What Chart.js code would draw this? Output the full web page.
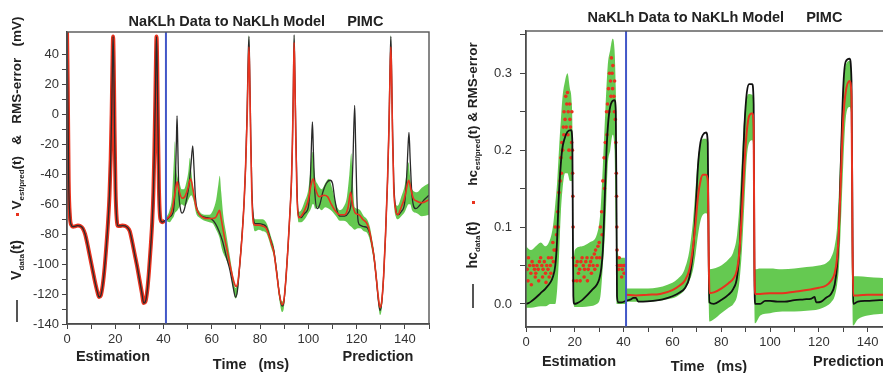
<!DOCTYPE html>
<html>
<head>
<meta charset="utf-8">
<script src="https://cdn.jsdelivr.net/npm/chart.js@4.4.1/dist/chart.umd.min.js"></script>
<style>
    body { margin: 0; width: 883px; height: 373px; overflow: hidden; position: relative; background: #fff;
           font-family: "Liberation Sans", Arial, sans-serif; color: #222; }
    canvas { position: absolute; top: 0; }
    #cV { left: 0; }
    #cH { left: 440px; }
    .lbl { position: absolute; font-weight: bold; font-size: 14.5px; white-space: nowrap; transform: translate(-50%, -50%); }
    .rot { transform: translate(-50%, -50%) rotate(-90deg); font-size: 14px; }
    .rot sub { font-size: 8px; vertical-align: -3px; }
    .dot { position: absolute; width: 3px; height: 3px; background: #e8321e; }
    .bar { position: absolute; width: 1.5px; background: #555; }
</style>
</head>
<body>
<canvas id="cV" width="440" height="373"></canvas>
<canvas id="cH" width="460" height="373"></canvas>

<div class="lbl" style="left:256px;top:21px">NaKLh Data to NaKLh Model<span style="margin-left:22px">PIMC</span></div>
<div class="lbl" style="left:715px;top:17px">NaKLh Data to NaKLh Model<span style="margin-left:22px">PIMC</span></div>

<div class="lbl" style="left:113px;top:356px">Estimation</div>
<div class="lbl" style="left:251px;top:364px">Time&nbsp;&nbsp; (ms)</div>
<div class="lbl" style="left:378px;top:356px">Prediction</div>
<div class="lbl" style="left:579px;top:361px">Estimation</div>
<div class="lbl" style="left:709px;top:366px">Time&nbsp;&nbsp; (ms)</div>
<div class="lbl" style="left:813px;top:361px;transform:translate(0,-50%)">Prediction</div>

<div class="lbl rot" style="left:17px;top:113px;font-size:13.5px">V<sub>est/pred</sub>(t)&nbsp;&nbsp; &amp;&nbsp;&nbsp; RMS-error&nbsp;&nbsp; (mV)</div>
<div class="dot" style="left:16px;top:213px"></div>
<div class="lbl rot" style="left:17px;top:260px">V<sub>data</sub>(t)</div>
<div class="bar" style="left:16px;top:300px;height:22px"></div>

<div class="lbl rot" style="left:473px;top:114px;font-size:13.5px">hc<sub>est/pred</sub>(t) &amp; RMS-error</div>
<div class="dot" style="left:472px;top:201px"></div>
<div class="lbl rot" style="left:473px;top:245px">hc<sub>data</sub>(t)</div>
<div class="bar" style="left:472px;top:284px;height:24px"></div>

<script>
const splitTime = 41;

// ---------- left panel : membrane voltage (mV) ----------
const vData = [[0,56],[0.3,20],[0.7,-45],[1.2,-68],[1.8,-74],[2.5,-75],[3.5,-74.7],[4.5,-74.3],[5.5,-74.6],[6.5,-76],
    [7.5,-80],[8.5,-87],[9.5,-95],[10.5,-103],[11.5,-111],[12.5,-118],[13.3,-122],[14,-121],[14.8,-114],[15.6,-102],
    [16.3,-88],[17,-72],[17.6,-54],[18.1,-30],[18.5,0],[18.8,30],[19.1,52],[19.4,30],[19.7,-10],[20.1,-50],[20.6,-70],
    [21.2,-74.5],[22,-74.5],[23,-74.3],[24,-74.5],[25,-75.5],[26,-78],[27,-85],[28,-93],[29,-101],[30,-110],[31,-119],
    [31.8,-126],[32.5,-125],[33.3,-117],[34,-104],[34.7,-88],[35.3,-72],[35.8,-52],[36.2,-25],[36.6,10],[36.9,40],
    [37.1,52],[37.4,30],[37.7,-10],[38.1,-50],[38.7,-70],[39.5,-72],[40.5,-71],[41.5,-70],[42.5,-68.5],[43.5,-67],
    [44.3,-62],[44.9,-45],[45.3,-20],[45.6,-1],[45.9,-20],[46.3,-50],[47,-63],[47.7,-66],[48.5,-64],[49.5,-57],
    [50.5,-48],[51.3,-35],[52.1,-21],[52.6,-35],[53.2,-55],[54,-64],[55,-67],[56.5,-68.5],[58,-69],[60,-70],
    [61.5,-73],[63,-78],[64.5,-85],[66,-95],[67.5,-104],[68.8,-115],[69.8,-122],[70.6,-118],[71.6,-100],[72.6,-79],
    [73.4,-58],[74,-35],[74.6,0],[75.1,40],[75.4,52],[75.7,30],[76.1,-10],[76.6,-50],[77.3,-70],[78,-73],[79.5,-73],
    [81,-73.5],[82.5,-75],[83.5,-79],[84.6,-85],[85.7,-91],[86.8,-104],[88,-120],[89.1,-128],[89.8,-126],[90.7,-110],
    [91.6,-88],[92.4,-65],[93,-45],[93.4,-20],[93.8,20],[94.1,53],[94.4,30],[94.8,-10],[95.3,-50],[96,-68],[97,-69],
    [98.5,-66],[100,-62],[100.8,-45],[101.3,-20],[101.7,-5],[102.1,-25],[102.7,-52],[103.7,-63],[104.8,-60],[106,-52],
    [107.5,-46],[109,-44],[110,-46],[111,-57],[112,-65],[113.4,-68],[115,-68],[116.5,-66],[117.8,-58],[118.5,-30],
    [119.2,6],[119.6,-20],[120.1,-55],[120.7,-72],[121.5,-74],[123,-75],[124.3,-75.5],[125.5,-80],[126.5,-88],
    [127.2,-95],[128.2,-110],[129,-124],[129.7,-131],[130.4,-126],[131.2,-108],[132,-80],[132.8,-45],[133.4,-10],
    [133.9,35],[134.2,52],[134.5,30],[134.9,-10],[135.4,-45],[136.2,-63],[137,-67],[138.5,-65],[140,-58],[140.8,-40],
    [141.3,-22],[141.7,-12],[142.2,-30],[143,-55],[144.5,-63],[146,-61],[148,-57],[150,-54]];

const vPred = [[41,-70],[42.5,-68],[43.5,-64],[44.5,-55],[45.2,-48],[45.7,-45],[46.3,-50],[47.7,-56],[48.8,-55],
    [50,-50],[51.2,-43],[52.2,-50],[53.5,-62],[55,-67],[56.5,-69],[58,-69.5],[60,-69.5],[61.5,-69],[62.5,-66],
    [63.2,-64],[63.8,-69],[65,-80],[66.5,-92],[68,-104],[69.2,-112],[70,-115],[70.8,-112],[71.6,-100],[72.6,-80],
    [73.4,-58],[74,-35],[74.6,-5],[75.1,30],[75.4,45],[75.7,25],[76.1,-15],[76.6,-55],[77.3,-73],[78,-74],[79.5,-74],
    [81,-74.5],[82.5,-76],[83.5,-80],[84.6,-86],[85.7,-92],[86.8,-105],[88,-120],[89.1,-127],[89.8,-125],[90.7,-110],
    [91.6,-88],[92.4,-65],[93,-45],[93.4,-20],[93.8,15],[94.1,48],[94.4,25],[94.8,-15],[95.3,-55],[96,-69],[97,-68],
    [98.5,-64],[100,-57],[101,-48],[102,-43],[103,-50],[104.5,-55],[106.5,-54],[108,-55],[109.5,-60],[111,-64],
    [113,-67],[115,-67],[116.5,-62],[117.5,-52],[118.3,-60],[119.5,-66],[121,-67],[122.5,-70],[124.3,-73],[125.5,-79],
    [126.5,-88],[127.2,-95],[128.2,-110],[129,-122],[129.7,-129],[130.4,-125],[131.2,-108],[132,-80],[132.8,-45],
    [133.4,-10],[133.9,30],[134.2,45],[134.5,25],[134.9,-15],[135.4,-50],[136.2,-64],[137,-67],[138.5,-62],[140,-55],
    [141,-47],[141.6,-44],[142.5,-50],[143.5,-56],[145,-58],[147,-59],[150,-57]];

// RMS-error band: [time, upper, lower]
const vBand = [[41,-69,-71],[42.5,-64,-72],[43.5,-55,-70],[44.3,-30,-68],[44.7,-18,-66],[45.2,-35,-65],[45.8,-42,-64],
    [46.5,-45,-62],[47.5,-50,-60],[48.5,-50,-61],[49.5,-45,-60],[50.3,-38,-57],[50.9,-29,-55],[51.5,-38,-54],
    [52.5,-52,-58],[53.5,-60,-66],[55,-65,-69],[57,-67,-71],[59,-67,-72],[60.5,-64,-73],[61.8,-57,-77],[62.7,-47,-80],
    [63.3,-41,-83],[63.9,-52,-88],[64.8,-68,-93],[66,-80,-97],[67.5,-95,-104],[68.8,-108,-116],[69.8,-116,-123],
    [70.6,-112,-120],[71.6,-96,-104],[72.6,-75,-83],[73.4,-54,-62],[74,-31,-39],[74.6,3,-5],[75.1,43,35],[75.4,53,48],
    [75.7,34,25],[76.1,-5,-15],[76.6,-46,-56],[77.3,-66,-75],[78,-70,-78],[79.5,-70,-77],[81,-70,-78],[82.5,-72,-79],
    [83.5,-76,-83],[84.6,-82,-89],[85.7,-88,-95],[86.8,-101,-108],[88,-117,-124],[89.1,-125,-132],[89.8,-123,-130],
    [90.7,-106,-114],[91.6,-84,-92],[92.4,-61,-69],[93,-41,-49],[93.4,-16,-24],[93.8,24,16],[94.1,53,48],[94.4,34,25],
    [94.8,-5,-15],[95.3,-45,-56],[96,-65,-72],[97,-64,-72],[98.5,-58,-70],[100,-50,-66],[100.8,-38,-64],[101.3,-28,-62],
    [101.7,-25,-60],[102.2,-33,-60],[102.8,-42,-63],[104,-47,-62],[105.5,-50,-64],[107,-46,-62],[108.5,-43,-63],
    [110,-50,-65],[111.5,-60,-68],[113,-64,-71],[114.5,-62,-71],[116,-55,-72],[117,-40,-74],[117.8,-26,-75],
    [118.4,-45,-76],[119.2,-62,-77],[120.5,-63,-76],[121.5,-64,-76],[123,-68,-78],[124.3,-70,-79],[125.5,-75,-84],
    [126.5,-84,-92],[127.2,-91,-99],[128.2,-106,-114],[129,-119,-127],[129.7,-127,-134],[130.4,-122,-130],
    [131.2,-104,-112],[132,-76,-84],[132.8,-41,-49],[133.4,-6,-14],[133.9,39,31],[134.2,53,48],[134.5,34,25],
    [134.9,-5,-15],[135.4,-40,-54],[136.2,-60,-68],[137,-61,-70],[138.5,-55,-68],[140,-47,-65],[140.8,-38,-62],
    [141.5,-32,-60],[142.2,-42,-60],[143,-50,-64],[145,-52,-66],[147,-49,-68],[150,-46,-67]];

// ---------- right panel : gating variable hc ----------
const hcData = [[0,0],[1,0.001],[2,0.003],[4,0.008],[6,0.014],[8,0.02],[10,0.028],[11,0.035],[12,0.05],[12.7,0.08],
    [13.3,0.13],[14,0.17],[14.8,0.2],[15.8,0.215],[17,0.224],[18.5,0.226],[19,0.21],[19.2,0.1],[19.4,0.01],[19.8,0],
    [21,0.001],[23,0.005],[25,0.011],[27,0.018],[29,0.025],[30,0.032],[30.8,0.045],[31.5,0.07],[32.2,0.13],[33,0.2],
    [33.8,0.24],[34.8,0.26],[36.3,0.265],[36.8,0.25],[37.1,0.12],[37.3,0.01],[37.8,0.002],[39,0.002],[41,0.004],
    [43,0.006],[44,0.008],[45,0.008],[46,0.003],[48,0.003],[52,0.004],[56,0.006],[60,0.01],[63,0.015],[65,0.02],
    [67,0.035],[68.5,0.07],[69.5,0.12],[70.5,0.18],[71.5,0.21],[72.5,0.22],[73.8,0.223],[74.5,0.21],[74.9,0.05],
    [75.2,0.002],[77,0],[80,0.005],[83,0.012],[85,0.02],[86.5,0.035],[87.5,0.07],[88.5,0.15],[89.5,0.23],[90.5,0.275],
    [91.5,0.286],[92.7,0.286],[93.3,0.26],[93.6,0.05],[93.9,0],[96,0],[98,0.004],[100,0.004],[103,0.003],[106,0.003],
    [110,0.005],[114,0.006],[117,0.007],[118.3,0.009],[118.9,0.002],[121,0.003],[123,0.008],[125,0.013],[126.5,0.025],
    [127.5,0.05],[128.3,0.1],[129,0.18],[130,0.28],[131,0.315],[132.6,0.319],[133.4,0.29],[133.8,0.1],[134.1,0],
    [136,0.003],[140,0.004],[145,0.005],[150,0.005]];

const hcEst = [[0.5,0.045],[1,0.06],[1.5,0.05],[2,0.04],[2.5,0.055],[3,0.05],[3.5,0.045],[4,0.04],[4.5,0.05],[5,0.045],
    [5.5,0.055],[6,0.06],[6.5,0.05],[7,0.045],[7.5,0.055],[8,0.04],[8.5,0.05],[9,0.045],[9.5,0.035],[10,0.05],
    [10.5,0.06],[11,0.08],[11.5,0.07],[12,0.1],[12.5,0.09],[13,0.12],[13.5,0.145],[14,0.16],[14.3,0.19],[14.7,0.21],
    [15,0.2],[15.3,0.23],[15.6,0.25],[16,0.24],[16.3,0.27],[16.7,0.26],[17,0.275],[17.3,0.25],[17.6,0.2],[17.9,0.26],
    [18.2,0.23],[18.5,0.19],[18.8,0.25],[19,0.2],[19.1,0.17],[19.2,0.14],[19.3,0.1],[19.4,0.06],[19.5,0.03],
    [20.5,0.05],[21,0.055],[21.5,0.04],[22,0.045],[22.5,0.055],[23,0.06],[23.5,0.05],[24,0.045],[24.5,0.055],[25,0.06],
    [25.5,0.045],[26,0.05],[26.5,0.055],[27,0.06],[27.5,0.05],[28,0.065],[28.5,0.07],[29,0.06],[29.5,0.075],[30,0.08],
    [30.5,0.1],[31,0.12],[31.5,0.16],[32,0.19],[32.5,0.21],[33,0.25],[33.4,0.26],[33.8,0.28],[34.2,0.3],[34.6,0.29],
    [35,0.32],[35.3,0.3],[35.6,0.31],[36,0.27],[36.3,0.29],[36.6,0.24],[36.8,0.21],[37,0.17],[37.1,0.14],[37.2,0.1],
    [37.3,0.07],[37.5,0.05],[38,0.045],[38.5,0.05],[39,0.05],[39.5,0.045],[40,0.05],[40.5,0.05],
    [0.8,0.03],[2.2,0.025],[3.8,0.035],[5.2,0.03],[6.8,0.035],[8.2,0.028],[9.2,0.06],[10.2,0.04],[11.2,0.055],
    [12.2,0.07],[13.2,0.1],[14.5,0.17],[15.5,0.22],[16.5,0.23],[17.2,0.22],[18,0.24],[18.7,0.21],
    [20.8,0.03],[22.2,0.03],[23.8,0.035],[25.2,0.03],[26.8,0.04],[28.2,0.045],[29.2,0.05],[30.2,0.06],[31.2,0.09],
    [32.2,0.15],[33.2,0.22],[34,0.25],[34.8,0.27],[35.5,0.28],[36.2,0.25],[38.2,0.06],[39.2,0.035],[40.2,0.04]];

const hcPred = [[41,0.012],[45,0.011],[50,0.012],[55,0.013],[60,0.018],[63,0.024],[65,0.03],[67,0.045],[68.5,0.075],
    [69.5,0.105],[70.5,0.14],[71.5,0.16],[72.5,0.168],[73.8,0.168],[74.5,0.16],[74.9,0.06],[75.2,0.014],[77,0.015],
    [80,0.02],[83,0.027],[85,0.033],[86.5,0.045],[87.5,0.07],[88.5,0.12],[89.5,0.18],[90.5,0.225],[91.5,0.245],
    [92.7,0.248],[93.3,0.23],[93.6,0.06],[93.9,0.013],[96,0.013],[100,0.014],[105,0.014],[110,0.016],[115,0.018],
    [120,0.021],[123,0.024],[125,0.03],[126.5,0.04],[127.5,0.06],[128.3,0.1],[129,0.16],[130,0.24],[131,0.275],
    [132.6,0.29],[133.4,0.27],[133.8,0.08],[134.1,0.011],[136,0.011],[140,0.012],[145,0.012],[150,0.012]];

const hcBand = [[0,0.075,-0.005],[2,0.07,-0.005],[4,0.075,-0.004],[6,0.08,-0.003],[8,0.075,-0.003],[10,0.085,0],
    [11,0.1,0],[12,0.13,0],[12.8,0.16,0.02],[13.5,0.2,0.06],[14.3,0.24,0.12],[15,0.27,0.15],[16,0.29,0.17],[17,0.3,0.17],
    [18,0.28,0.16],[18.8,0.26,0.16],[19.2,0.2,0.06],[19.5,0.06,0],[20,0.07,-0.004],[23,0.075,-0.004],[26,0.08,-0.003],
    [29,0.09,0],[30.5,0.12,0.01],[31.5,0.18,0.05],[32.5,0.25,0.1],[33.5,0.31,0.18],[34.5,0.33,0.2],[35.5,0.345,0.22],
    [36.3,0.33,0.2],[36.8,0.28,0.1],[37.2,0.2,0],[37.5,0.07,0],[38.5,0.06,0],[40.5,0.06,0],[41,0.02,0.003],
    [50,0.02,0.003],[58,0.025,0.006],[62,0.032,0.01],[65,0.045,0.018],[67,0.07,0.03],[68.5,0.11,0.045],[69.5,0.15,0.065],
    [70.5,0.19,0.09],[71.5,0.208,0.108],[72.5,0.215,0.116],[73.8,0.215,0.118],[74.5,0.205,0.11],[74.9,0.12,0],
    [75.2,0.045,-0.023],[77,0.046,-0.02],[80,0.05,-0.012],[83,0.058,-0.005],[85,0.068,0],[86.5,0.09,0.01],
    [87.5,0.13,0.03],[88.5,0.19,0.07],[89.5,0.245,0.13],[90.5,0.268,0.19],[91.5,0.273,0.21],[92.7,0.272,0.213],
    [93.3,0.255,0.19],[93.6,0.12,0],[93.9,0.045,-0.025],[96,0.046,-0.015],[100,0.046,-0.012],[105,0.045,-0.01],
    [110,0.046,-0.01],[115,0.048,-0.009],[120,0.05,-0.007],[123,0.053,-0.003],[125,0.06,0.002],[126.5,0.075,0.01],
    [127.5,0.1,0.025],[128.3,0.15,0.05],[129,0.21,0.1],[130,0.28,0.18],[131,0.31,0.24],[132.6,0.316,0.256],
    [133.4,0.3,0.24],[133.8,0.12,0],[134.1,0.036,-0.028],[136,0.036,-0.02],[140,0.035,-0.015],[145,0.034,-0.013],
    [150,0.033,-0.012]];

const hcTicks = [0, 0.05, 0.1, 0.15, 0.2, 0.25, 0.3, 0.35];

const GREEN = "rgba(88, 196, 66, 0.92)";
const RED = "#e8321e";
const DARK = "#2a2a2a";

const pts = arr => arr.map(p => ({ x: p[0], y: p[1] }));

const framePlugin = {
    id: "frame",
    afterDatasetsDraw(chart) {
        const { ctx, chartArea: a, scales: { x } } = chart;
        const px = x.getPixelForValue(splitTime);
        ctx.save();
        ctx.strokeStyle = "#4257c8";
        ctx.lineWidth = 2;
        ctx.beginPath();
        ctx.moveTo(px, a.top);
        ctx.lineTo(px, a.bottom);
        ctx.stroke();
        ctx.strokeStyle = "#555";
        ctx.lineWidth = 1.4;
        ctx.strokeRect(a.left, a.top, a.right - a.left, a.bottom - a.top);
        ctx.restore();
    }
};

function axisX(height) {
    return {
        type: "linear", min: 0, max: 150,
        afterFit: s => { s.height = height; },
        ticks: { stepSize: 10, autoSkip: false, maxRotation: 0, padding: 3, color: "#333",
                 font: { family: "Liberation Sans", size: 13 },
                 callback: v => (v % 20 === 0 ? v : "") },
        grid: { drawOnChartArea: false, tickLength: 5, color: "#444" },
        border: { color: "#333", width: 1.4 }
    };
}

function line(data, color, width, order) {
    return { data: pts(data), borderColor: color, borderWidth: width, pointRadius: 0,
             cubicInterpolationMode: "monotone", fill: false, order: order };
}

function band(data, order) {
    return [
        { data: data.map(p => ({ x: p[0], y: p[1] })), borderWidth: 0, pointRadius: 0, backgroundColor: GREEN,
          cubicInterpolationMode: "monotone", fill: "+1", order: order },
        { data: data.map(p => ({ x: p[0], y: p[2] })), borderWidth: 0, pointRadius: 0,
          cubicInterpolationMode: "monotone", fill: false, order: order }
    ];
}

const baseOptions = {
    responsive: false,
    animation: false,
    devicePixelRatio: 1,
    plugins: { legend: { display: false }, tooltip: { enabled: false } }
};

// left chart
new Chart(document.getElementById("cV"), {
    type: "line",
    data: {
        datasets: [
            ...band(vBand, 9),
            line(vData.filter(p => p[0] <= splitTime), RED, 4, 8),
            line(vData, DARK, 1.3, 5),
            line(vPred, RED, 1.6, 4)
        ]
    },
    options: {
        ...baseOptions,
        layout: { padding: { left: 0, top: 32, right: 11, bottom: 0 } },
        scales: {
            x: axisX(49),
            y: {
                type: "linear", min: -140, max: 55,
                afterFit: s => { s.width = 67; },
                afterBuildTicks: s => { s.ticks = s.ticks.filter(t => t.value % 10 === 0); },
                ticks: { stepSize: 10, autoSkip: false, padding: 3, color: "#333",
                         font: { family: "Liberation Sans", size: 13 },
                         callback: v => (v % 20 === 0 ? v : "") },
                grid: { drawOnChartArea: false, tickLength: 5, color: "#444" },
                border: { color: "#333", width: 1.4 }
            }
        }
    },
    plugins: [framePlugin]
});

// right chart
new Chart(document.getElementById("cH"), {
    type: "line",
    data: {
        datasets: [
            ...band(hcBand, 9),
            { data: pts(hcEst), showLine: false, pointRadius: 1.8, pointBorderWidth: 0,
              pointBackgroundColor: RED, order: 7 },
            line(hcData, "#111", 1.8, 5),
            line(hcPred, RED, 2, 4)
        ]
    },
    options: {
        ...baseOptions,
        layout: { padding: { left: 0, top: 31, right: 8, bottom: 0 } },
        scales: {
            x: axisX(46),
            y: {
                type: "linear", min: -0.03, max: 0.355,
                afterFit: s => { s.width = 86; },
                afterBuildTicks: s => { s.ticks = hcTicks.map(v => ({ value: v })); },
                ticks: { autoSkip: false, padding: 8, color: "#333",
                         font: { family: "Liberation Sans", size: 13 },
                         callback: v => (Math.round(v * 100) % 10 === 0 ? v.toFixed(1) : "") },
                grid: { drawOnChartArea: false, tickLength: 6, color: "#444" },
                border: { color: "#333", width: 1.4 }
            }
        }
    },
    plugins: [framePlugin]
});
</script>
</body>
</html>
